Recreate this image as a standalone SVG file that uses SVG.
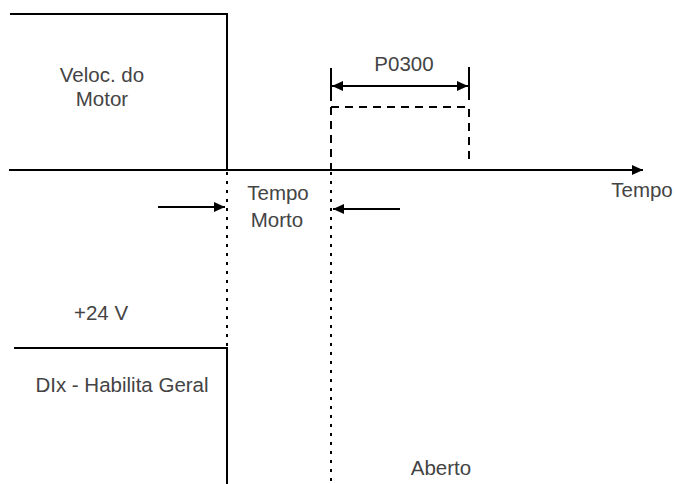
<svg xmlns="http://www.w3.org/2000/svg" width="676" height="484" viewBox="0 0 676 484">
<style>
.t{font-family:"Liberation Sans",Arial,sans-serif;font-size:20.5px;fill:#444;text-anchor:middle}
.s{stroke:#000;stroke-width:2;fill:none}
.dot{stroke:#000;stroke-width:2;fill:none;stroke-dasharray:3 6}
.dash{stroke:#000;stroke-width:2;fill:none;stroke-dasharray:8 6}
</style>
<defs>
<marker id="ah" markerUnits="userSpaceOnUse" markerWidth="12" markerHeight="10" refX="11" refY="5" orient="auto-start-reverse" viewBox="0 0 12 10">
<path d="M0,0 L11,5 L0,10 z" fill="#000"/>
</marker>
</defs>
<rect width="676" height="484" fill="#fff"/>
<g id="velocidade">
<polyline class="s" points="10,14 227,14 227,170"/>
<text class="t" x="102" y="82">Veloc. do</text>
<text class="t" x="102" y="106">Motor</text>
</g>
<g id="p0300">
<path class="dash" d="M331,107 H469 V160"/>
<line class="dash" x1="331" y1="107" x2="331" y2="170"/>
<line class="s" x1="331" y1="68" x2="331" y2="101" stroke-width="1.5"/>
<line class="s" x1="469" y1="67" x2="469" y2="100" stroke-width="1.5"/>
<text class="t" x="404" y="71">P0300</text>
</g>
<g id="eixo">
<text class="t" x="642" y="197">Tempo</text>
</g>
<g id="tempo-morto">
<text class="t" x="278" y="200">Tempo</text>
<text class="t" x="277" y="227">Morto</text>
</g>
<g id="habilita">
<polyline class="s" points="14,348 227,348 227,484"/>
<text class="t" x="101" y="320">+24 V</text>
<text class="t" x="122" y="392">DIx - Habilita Geral</text>
<text class="t" x="441" y="475">Aberto</text>
</g>
<g id="connectors">
<line class="s" x1="9" y1="170" x2="643" y2="170" marker-end="url(#ah)"/>
<line class="dot" x1="227" y1="172" x2="227" y2="348"/>
<line class="dot" x1="331" y1="172" x2="331" y2="484"/>
<line class="s" x1="332" y1="86" x2="468" y2="86" marker-start="url(#ah)" marker-end="url(#ah)"/>
<line class="s" x1="158" y1="207" x2="225" y2="207" marker-end="url(#ah)"/>
<line class="s" x1="400" y1="209" x2="333" y2="209" marker-end="url(#ah)"/>
</g>
</svg>
